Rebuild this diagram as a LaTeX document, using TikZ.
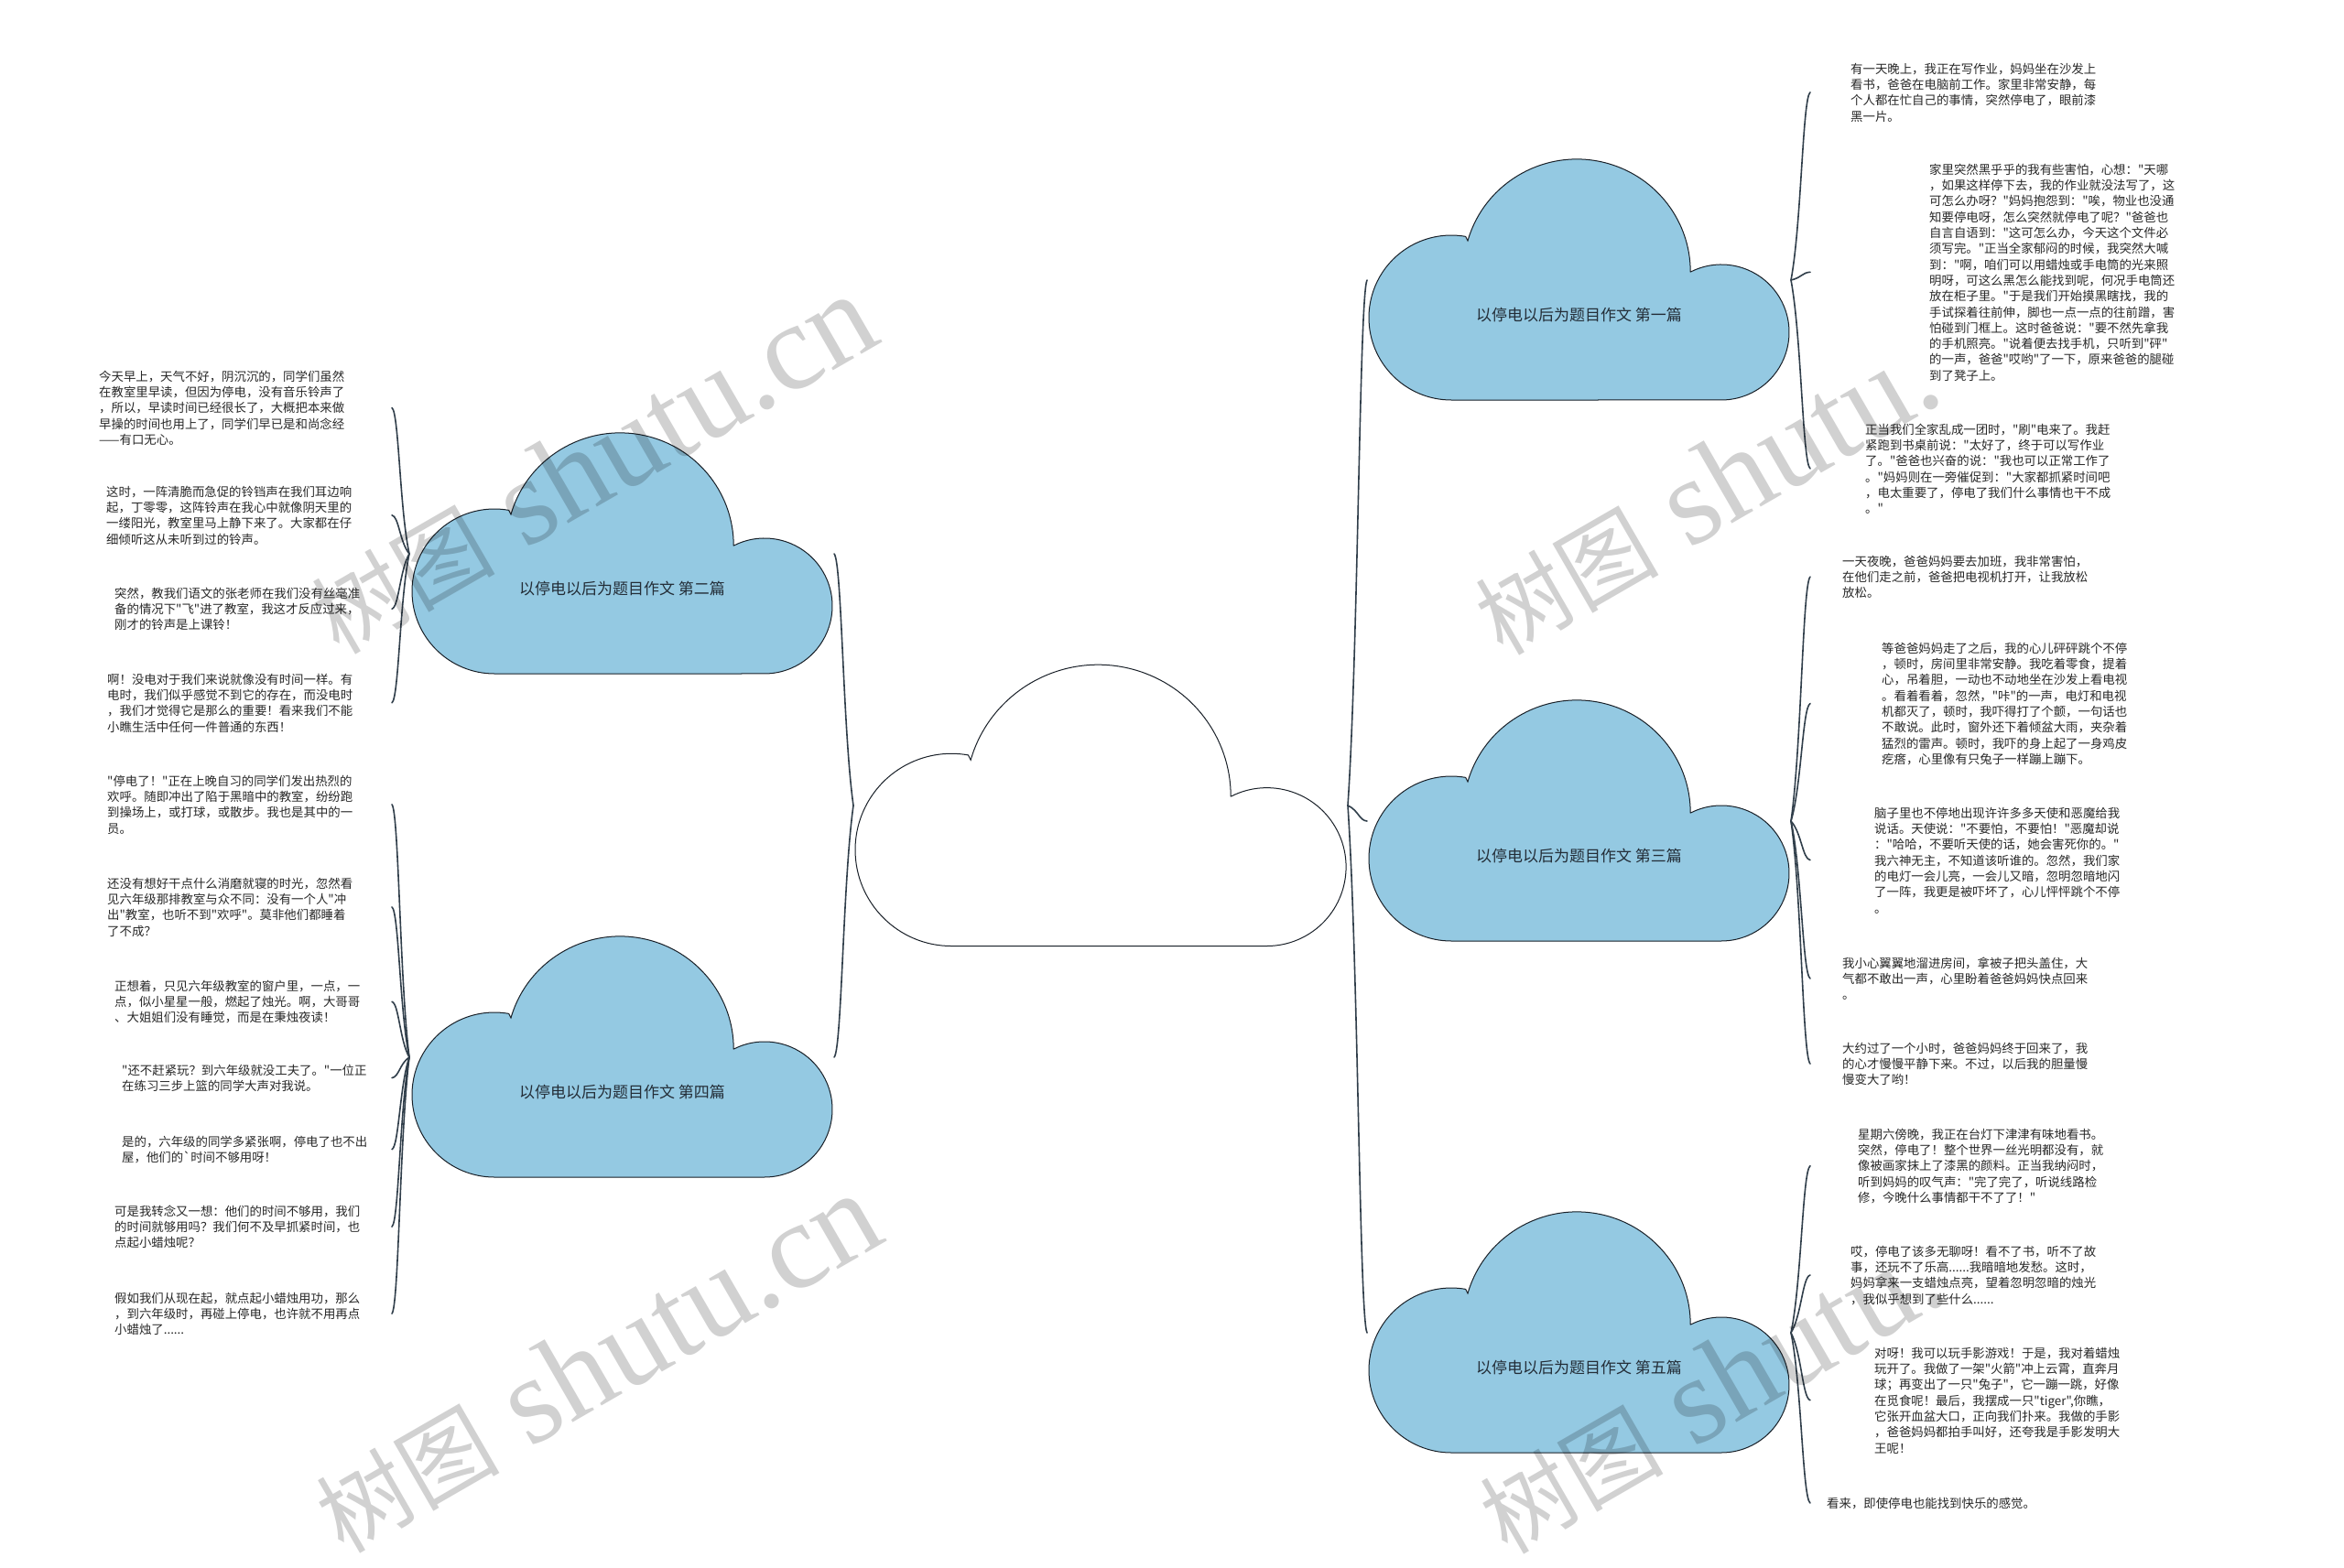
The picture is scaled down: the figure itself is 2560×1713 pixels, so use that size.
\documentclass[tikz,border=0pt]{standalone}
\usepackage{fontspec}
\newfontfamily\cjk{Noto Sans CJK SC}
\newfontfamily\wmlatin{Liberation Serif}
\usetikzlibrary{calc}
\definecolor{cloudblue}{RGB}{148,201,226}
\definecolor{cloudedge}{RGB}{25,32,40}
\definecolor{linkc}{RGB}{48,62,74}
\definecolor{txtc}{RGB}{40,40,40}
\definecolor{lblc}{RGB}{35,45,55}
\newcommand\fs{\rule{0pt}{12pt}}
\tikzset{
  txt/.style={font=\cjk\fontsize{13.4}{17.3}\selectfont, text=txtc, align=left, inner sep=0pt, anchor=north west},
  lbl/.style={font=\cjk\fontsize{17}{20}\selectfont, text=lblc, inner sep=0pt},
  link/.style={draw=linkc, line width=1.6pt, line cap=round},
  cloudline/.style={draw=cloudedge, line width=1pt},
  wm/.style={text=black, text opacity=0.18, inner sep=0pt, rotate=30}
}
\newcommand\drawcloud[3]{%
  \begin{scope}[shift={(#1)},scale=#2]
    \filldraw[cloudline,fill=#3] (90,262) arc[start angle=90,end angle=280,radius=90]
      -- (108,88) arc[start angle=196,end angle=360,x radius=124,y radius=123]
      -- (351.5,122) arc[start angle=243.1,end angle=450,radius=74] -- cycle;
  \end{scope}}
\newcommand\conn[2]{\draw[link] let \p1=(#1), \p2=(#2) in (\p1) .. controls ({\x1+0.55*(\x2-\x1)},{\y1+0.3*(\y2-\y1)}) and ({\x1+0.6*(\x2-\x1)},{\y1+0.97*(\y2-\y1)}) .. (\p2);}
\begin{document}
\begin{tikzpicture}[x=1pt,y=-1pt]
\useasboundingbox (0,0) rectangle (2560,1713);
\fill[white] (0,0) rectangle (2560,1713);

% anchors of clouds
\coordinate (c0w) at (932,880);
\coordinate (c0e) at (1472,880);
\coordinate (c2w) at (447,605);
\coordinate (c2e) at (911,605);
\coordinate (c4w) at (447,1155);
\coordinate (c4e) at (911,1155);
\coordinate (c1w) at (1493,306);
\coordinate (c1e) at (1956,306);
\coordinate (c3w) at (1493,897);
\coordinate (c3e) at (1956,897);
\coordinate (c5w) at (1493,1456);
\coordinate (c5e) at (1956,1456);
\coordinate (lx) at (428,0);
\coordinate (rx) at (1977,0);

% text nodes, left
\node[txt] (t1) at (108,404.1) {\fs 今天早上，天气不好，阴沉沉的，同学们虽然\\在教室里早读，但因为停电，没有音乐铃声了\\，所以，早读时间已经很长了，大概把本来做\\早操的时间也用上了，同学们早已是和尚念经\\——有口无心。};
\node[txt] (t2) at (116,530.1) {\fs 这时，一阵清脆而急促的铃铛声在我们耳边响\\起，丁零零，这阵铃声在我心中就像阴天里的\\一缕阳光，教室里马上静下来了。大家都在仔\\细倾听这从未听到过的铃声。};
\node[txt] (t3) at (125,641.1) {\fs 突然，教我们语文的张老师在我们没有丝毫准\\备的情况下"飞"进了教室，我这才反应过来，\\刚才的铃声是上课铃！};
\node[txt] (t4) at (117,735.1) {\fs 啊！没电对于我们来说就像没有时间一样。有\\电时，我们似乎感觉不到它的存在，而没电时\\，我们才觉得它是那么的重要！看来我们不能\\小瞧生活中任何一件普通的东西！};
\node[txt] (t5) at (117,846.1) {\fs "停电了！"正在上晚自习的同学们发出热烈的\\欢呼。随即冲出了陷于黑暗中的教室，纷纷跑\\到操场上，或打球，或散步。我也是其中的一\\员。};
\node[txt] (t6) at (117,958.1) {\fs 还没有想好干点什么消磨就寝的时光，忽然看\\见六年级那排教室与众不同：没有一个人"冲\\出"教室，也听不到"欢呼"。莫非他们都睡着\\了不成？};
\node[txt] (t7) at (125,1070.1) {\fs 正想着，只见六年级教室的窗户里，一点，一\\点，似小星星一般，燃起了烛光。啊，大哥哥\\、大姐姐们没有睡觉，而是在秉烛夜读！};
\node[txt] (t8) at (133,1162.1) {\fs "还不赶紧玩？到六年级就没工夫了。"一位正\\在练习三步上篮的同学大声对我说。};
\node[txt] (t9) at (133,1240.1) {\fs 是的，六年级的同学多紧张啊，停电了也不出\\屋，他们的`时间不够用呀！};
\node[txt] (t10) at (125,1316.1) {\fs 可是我转念又一想：他们的时间不够用，我们\\的时间就够用吗？我们何不及早抓紧时间，也\\点起小蜡烛呢？};
\node[txt] (t11) at (125,1411.1) {\fs 假如我们从现在起，就点起小蜡烛用功，那么\\，到六年级时，再碰上停电，也许就不用再点\\小蜡烛了......};

% text nodes, right
\node[txt] (r1) at (2021,68.1) {\fs 有一天晚上，我正在写作业，妈妈坐在沙发上\\看书，爸爸在电脑前工作。家里非常安静，每\\个人都在忙自己的事情，突然停电了，眼前漆\\黑一片。};
\node[txt] (r2) at (2107,178.1) {\fs 家里突然黑乎乎的我有些害怕，心想："天哪\\，如果这样停下去，我的作业就没法写了，这\\可怎么办呀？"妈妈抱怨到："唉，物业也没通\\知要停电呀，怎么突然就停电了呢？"爸爸也\\自言自语到："这可怎么办，今天这个文件必\\须写完。"正当全家郁闷的时候，我突然大喊\\到："啊，咱们可以用蜡烛或手电筒的光来照\\明呀，可这么黑怎么能找到呢，何况手电筒还\\放在柜子里。"于是我们开始摸黑瞎找，我的\\手试探着往前伸，脚也一点一点的往前蹭，害\\怕碰到门框上。这时爸爸说："要不然先拿我\\的手机照亮。"说着便去找手机，只听到"砰"\\的一声，爸爸"哎哟"了一下，原来爸爸的腿碰\\到了凳子上。};
\node[txt] (r3) at (2037,462.1) {\fs 正当我们全家乱成一团时，"刷"电来了。我赶\\紧跑到书桌前说："太好了，终于可以写作业\\了。"爸爸也兴奋的说："我也可以正常工作了\\。"妈妈则在一旁催促到："大家都抓紧时间吧\\，电太重要了，停电了我们什么事情也干不成\\。"};
\node[txt] (r4) at (2012,606.1) {\fs 一天夜晚，爸爸妈妈要去加班，我非常害怕，\\在他们走之前，爸爸把电视机打开，让我放松\\放松。};
\node[txt] (r5) at (2055,701.1) {\fs 等爸爸妈妈走了之后，我的心儿砰砰跳个不停\\，顿时，房间里非常安静。我吃着零食，提着\\心，吊着胆，一动也不动地坐在沙发上看电视\\。看着看着，忽然，"咔"的一声，电灯和电视\\机都灭了，顿时，我吓得打了个颤，一句话也\\不敢说。此时，窗外还下着倾盆大雨，夹杂着\\猛烈的雷声。顿时，我吓的身上起了一身鸡皮\\疙瘩，心里像有只兔子一样蹦上蹦下。};
\node[txt] (r6) at (2047,881.1) {\fs 脑子里也不停地出现许许多多天使和恶魔给我\\说话。天使说："不要怕，不要怕！"恶魔却说\\："哈哈，不要听天使的话，她会害死你的。"\\我六神无主，不知道该听谁的。忽然，我们家\\的电灯一会儿亮，一会儿又暗，忽明忽暗地闪\\了一阵，我更是被吓坏了，心儿怦怦跳个不停\\。};
\node[txt] (r7) at (2012,1045.1) {\fs 我小心翼翼地溜进房间，拿被子把头盖住，大\\气都不敢出一声，心里盼着爸爸妈妈快点回来\\。};
\node[txt] (r8) at (2012,1138.1) {\fs 大约过了一个小时，爸爸妈妈终于回来了，我\\的心才慢慢平静下来。不过，以后我的胆量慢\\慢变大了哟！};
\node[txt] (r9) at (2029,1232.1) {\fs 星期六傍晚，我正在台灯下津津有味地看书。\\突然，停电了！整个世界一丝光明都没有，就\\像被画家抹上了漆黑的颜料。正当我纳闷时，\\听到妈妈的叹气声："完了完了，听说线路检\\修，今晚什么事情都干不了了！"};
\node[txt] (r10) at (2021,1360.1) {\fs 哎，停电了该多无聊呀！看不了书，听不了故\\事，还玩不了乐高......我暗暗地发愁。这时，\\妈妈拿来一支蜡烛点亮，望着忽明忽暗的烛光\\，我似乎想到了些什么......};
\node[txt] (r11) at (2047,1471.1) {\fs 对呀！我可以玩手影游戏！于是，我对着蜡烛\\玩开了。我做了一架"火箭"冲上云霄，直奔月\\球；再变出了一只"兔子"，它一蹦一跳，好像\\在觅食呢！最后，我摆成一只"tiger",你瞧，\\它张开血盆大口，正向我们扑来。我做的手影\\，爸爸妈妈都拍手叫好，还夸我是手影发明大\\王呢！};
\node[txt] (r12) at (1995,1635.1) {\fs 看来，即使停电也能找到快乐的感觉。};

% connector ends at the texts
\foreach \t in {t1,t2,t3,t4,t5,t6,t7,t8,t9,t10,t11}{\coordinate (\t a) at (\t.west -| lx);}
\foreach \t in {r1,r2,r3,r4,r5,r6,r7,r8,r9,r10,r11,r12}{\coordinate (\t a) at (\t.west -| rx);}

% connectors
\conn{c0w}{c2e}
\conn{c0w}{c4e}
\conn{c0e}{c1w}
\conn{c0e}{c3w}
\conn{c0e}{c5w}
\foreach \t in {t1,t2,t3,t4}{\conn{c2w}{\t a}}
\foreach \t in {t5,t6,t7,t8,t9,t10,t11}{\conn{c4w}{\t a}}
\foreach \t in {r1,r2,r3}{\conn{c1e}{\t a}}
\foreach \t in {r4,r5,r6,r7,r8}{\conn{c3e}{\t a}}
\foreach \t in {r9,r10,r11,r12}{\conn{c5e}{\t a}}

% clouds
\drawcloud{934,727.5}{1.168}{white}
\drawcloud{450,474}{1}{cloudblue}
\drawcloud{450,1024}{1}{cloudblue}
\drawcloud{1495,175}{1}{cloudblue}
\drawcloud{1495,766}{1}{cloudblue}
\drawcloud{1495,1325}{1}{cloudblue}

\node[lbl] (L2) at (679.5,643) {以停电以后为题目作文 第二篇};
\node[lbl] (L4) at (679.5,1193) {以停电以后为题目作文 第四篇};
\node[lbl] (L1) at (1724.5,344) {以停电以后为题目作文 第一篇};
\node[lbl] (L3) at (1724.5,935) {以停电以后为题目作文 第三篇};
\node[lbl] (L5) at (1724.5,1494) {以停电以后为题目作文 第五篇};

% watermarks
\node[wm] (wm1) at (647,508) {\cjk\fontsize{100}{100}\selectfont 树图\wmlatin\fontsize{135}{135}\selectfont\ shutu.cn};
\node[wm] (wm2) at (652,1490) {\cjk\fontsize{100}{100}\selectfont 树图\wmlatin\fontsize{135}{135}\selectfont\ shutu.cn};
\node[wm] (wm3) at (1863,540) {\cjk\fontsize{100}{100}\selectfont 树图\wmlatin\fontsize{135}{135}\selectfont\ shutu.};
\node[wm] (wm4) at (1868,1522) {\cjk\fontsize{100}{100}\selectfont 树图\wmlatin\fontsize{135}{135}\selectfont\ shutu.};
\end{tikzpicture}
\end{document}
